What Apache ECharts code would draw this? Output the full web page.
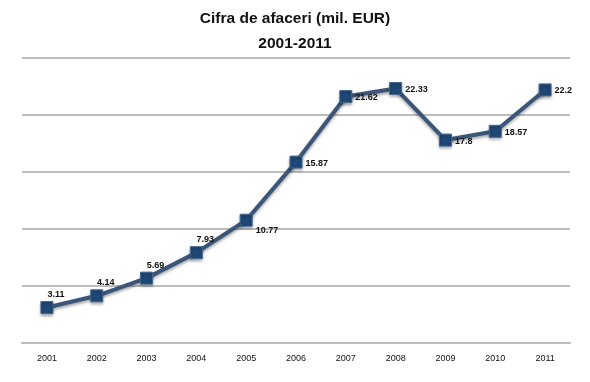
<!DOCTYPE html>
<html><head><meta charset="utf-8">
<script src="https://cdn.jsdelivr.net/npm/echarts@6/dist/echarts.min.js"></script>
<style>html,body{margin:0;padding:0;background:#fff}#c{width:590px;height:382px}</style>
</head><body><div id="c"></div>
<script>
var years = ['2001','2002','2003','2004','2005','2006','2007','2008','2009','2010','2011'];
var turnover = [3.11, 4.14, 5.69, 7.93, 10.77, 15.87, 21.62, 22.33, 17.8, 18.57, 22.2];
var labelAbove = [true, true, true, true, false, false, false, false, false, false, false];

var chart = echarts.init(document.getElementById('c'));
var data = turnover.map(function(v, i){
  var lab = labelAbove[i]
    ? {position: 'top', offset: [9, 3]}
    : {position: 'right', offset: (i === 4 ? [-2, 10] : [-2, 1])};
  return {value: v, label: lab};
});
chart.setOption({
  animation: false,
  title: {
    text: 'Cifra de afaceri (mil. EUR)\n2001-2011',
    left: 'center', top: 1,
    textStyle: {fontFamily: 'Liberation Sans', fontWeight: 'bold', fontSize: 15.5, lineHeight: 25, color: '#111'}
  },
  grid: {left: 22, right: 20, top: 58, bottom: 39},
  xAxis: {
    type: 'category', data: years, boundaryGap: true,
    axisLine: {lineStyle: {color: '#bdbdbd', width: 2}},
    axisTick: {show: false},
    axisLabel: {color: '#111', fontSize: 9, fontFamily: 'Liberation Sans', margin: 11}
  },
  yAxis: {
    type: 'value', min: 0, max: 25, interval: 5,
    axisLabel: {show: false}, axisLine: {show: false}, axisTick: {show: false},
    splitLine: {lineStyle: {color: '#bdbdbd', width: 2}}
  },
  series: [{
    type: 'line', data: data,
    symbol: 'rect', symbolSize: 12,
    lineStyle: {color: '#3b5678', width: 4, shadowColor: 'rgba(0,0,0,0.35)', shadowBlur: 3, shadowOffsetY: 2},
    itemStyle: {color: '#1f4877', borderColor: '#47688f', borderWidth: 1, shadowColor: 'rgba(0,0,0,0.35)', shadowBlur: 3, shadowOffsetY: 2},
    label: {show: true, fontSize: 9, fontWeight: 'bold', color: '#111', fontFamily: 'Liberation Sans'}
  }]
});
</script></body></html>
